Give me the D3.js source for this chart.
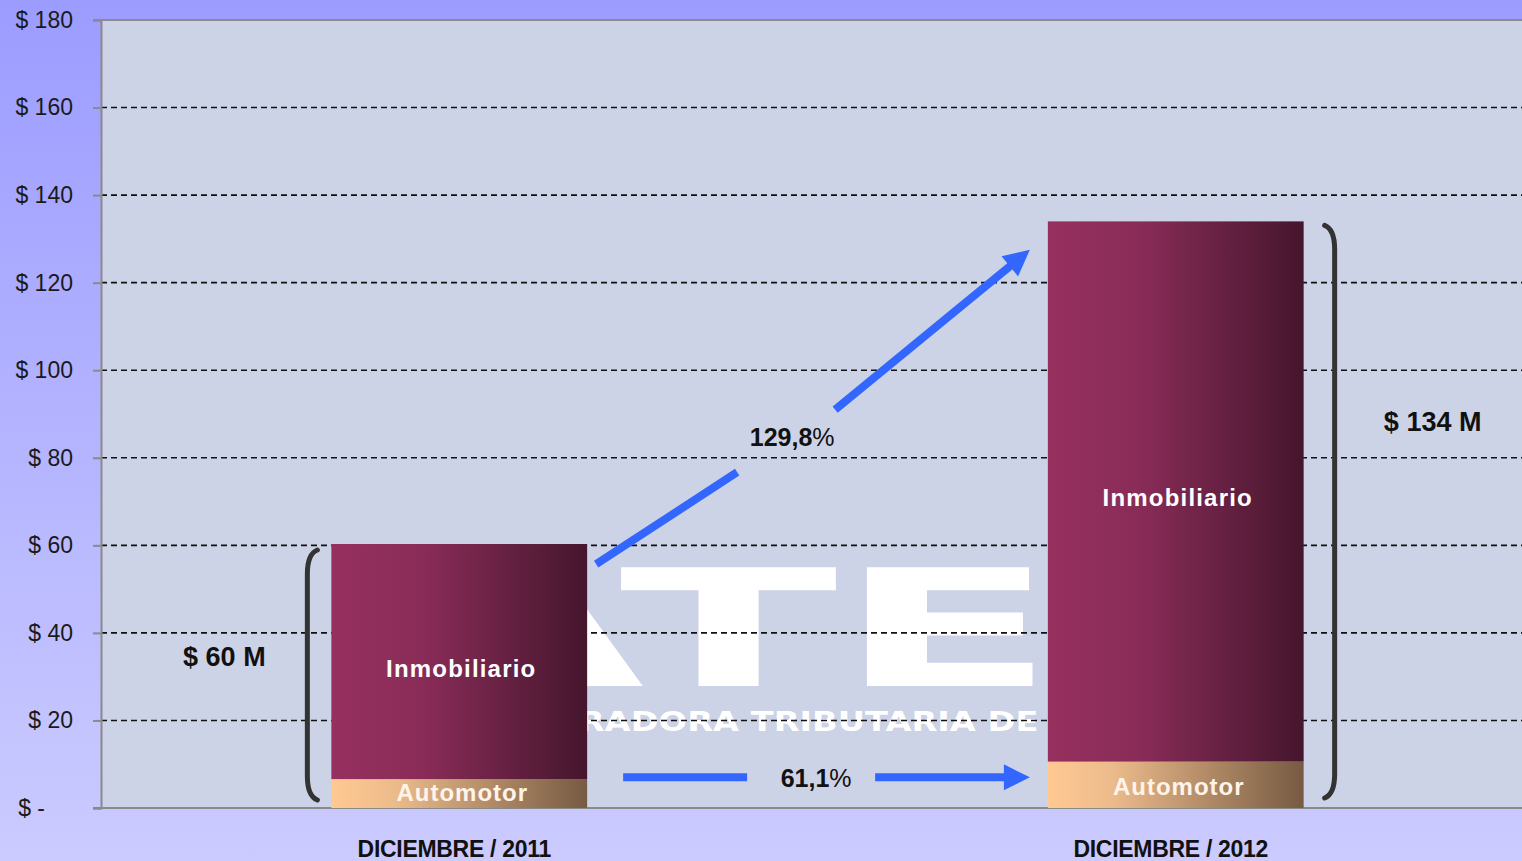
<!DOCTYPE html>
<html>
<head>
<meta charset="utf-8">
<script src="https://cdn.jsdelivr.net/npm/d3@7/dist/d3.min.js"></script>
<style>
  html, body { margin: 0; padding: 0; overflow: hidden; }
  body { width: 1522px; height: 861px; }
  text { font-family: "Liberation Sans", Arial, sans-serif; }
</style>
</head>
<body>
<div id="chart"></div>
<script>
// chart data
var periods = ["DICIEMBRE / 2011", "DICIEMBRE / 2012"];
var automotor = [6.6, 10.6];
var inmobiliario = [53.7, 123.4];
var totalLabels = ["$ 60 M", "$ 134 M"];
var growthLabels = ["129,8", "61,1"];
var yTicks = [0, 20, 40, 60, 80, 100, 120, 140, 160, 180];

var width = 1522;
var height = 861;

var margin = { top: 20, left: 101, bottom: 53 };
var plotBottom = height - margin.bottom;

var svg = d3.select("#chart")
  .append("svg")
  .attr("width", width)
  .attr("height", height);

var defs = svg.append("defs");

var bgGrad = defs.append("linearGradient")
  .attr("id", "bgGrad").attr("x1", 0).attr("y1", 0).attr("x2", 0).attr("y2", 1);
bgGrad.append("stop").attr("offset", "0%").attr("stop-color", "#9c9cff");
bgGrad.append("stop").attr("offset", "100%").attr("stop-color", "#cbcbff");

var inmoGrad = defs.append("linearGradient")
  .attr("id", "inmoGrad").attr("x1", 0).attr("y1", 0).attr("x2", 1).attr("y2", 0);
inmoGrad.append("stop").attr("offset", "0%").attr("stop-color", "#96305f");
inmoGrad.append("stop").attr("offset", "35%").attr("stop-color", "#8a2c58");
inmoGrad.append("stop").attr("offset", "100%").attr("stop-color", "#45162d");

var autoGrad = defs.append("linearGradient")
  .attr("id", "autoGrad").attr("x1", 0).attr("y1", 0).attr("x2", 1).attr("y2", 0);
autoGrad.append("stop").attr("offset", "0%").attr("stop-color", "#ffc992");
autoGrad.append("stop").attr("offset", "25%").attr("stop-color", "#ecbb8b");
autoGrad.append("stop").attr("offset", "100%").attr("stop-color", "#765a42");

svg.append("rect")
  .attr("width", width).attr("height", height)
  .attr("fill", "url(#bgGrad)");

var x = d3.scaleBand()
  .domain(periods)
  .range([margin.left, 1534])
  .padding(0);

var y = d3.scaleLinear()
  .domain([0, 180])
  .range([plotBottom, margin.top]);

var barW = x.bandwidth() * 0.357;
function barX(d) { return x(d) + (x.bandwidth() - barW) / 2; }

// plot area
svg.append("rect")
  .attr("x", margin.left).attr("y", margin.top)
  .attr("width", width - margin.left).attr("height", plotBottom - margin.top)
  .attr("fill", "#cdd3e6");

// watermark
svg.append("text")
  .attr("x", 397).attr("y", 686)
  .attr("textLength", 905).attr("lengthAdjust", "spacingAndGlyphs")
  .style("font-family", "'DejaVu Sans', sans-serif")
  .style("font-weight", "bold")
  .style("font-size", "163px")
  .attr("fill", "#ffffff")
  .text("ATER");

svg.append("text")
  .attr("x", 391).attr("y", 731)
  .attr("textLength", 885).attr("lengthAdjust", "spacingAndGlyphs")
  .style("font-family", "'DejaVu Sans', sans-serif")
  .style("font-weight", "bold")
  .style("font-size", "26px")
  .attr("fill", "#ffffff")
  .text("ADMINISTRADORA TRIBUTARIA DE ENTRE RÍOS");

// gridlines
svg.append("g")
  .selectAll("line")
  .data(yTicks.filter(function(d) { return d > 0 && d < 180; }))
  .enter().append("line")
  .attr("x1", margin.left).attr("x2", width)
  .attr("y1", function(d) { return y(d); })
  .attr("y2", function(d) { return y(d); })
  .attr("stroke", "#111")
  .attr("stroke-width", 1.6)
  .attr("stroke-dasharray", "6,4");

// top border
svg.append("line")
  .attr("x1", margin.left - 8).attr("x2", width)
  .attr("y1", y(180)).attr("y2", y(180))
  .attr("stroke", "#8a8a8a").attr("stroke-width", 2);

// y axis
var yAxis = d3.axisLeft(y)
  .tickValues(yTicks)
  .tickSize(8)
  .tickPadding(20)
  .tickFormat(function(d) { return d === 0 ? "$ -" : "$ " + d; });

var yAxisG = svg.append("g")
  .attr("transform", "translate(" + margin.left + ",0)")
  .call(yAxis);
yAxisG.select(".domain").attr("stroke", "#8a8a8a").attr("stroke-width", 2);
yAxisG.selectAll(".tick line").attr("stroke", "#8a8a8a").attr("stroke-width", 2);
yAxisG.selectAll(".tick text")
  .style("font-family", "'Liberation Sans', Arial, sans-serif")
  .style("font-size", "23px")
  .attr("fill", "#1a1a1a")
  .attr("dx", function(d) { return d === 0 ? -28 : 0; });

// x axis line
svg.append("line")
  .attr("x1", margin.left - 8).attr("x2", width)
  .attr("y1", plotBottom).attr("y2", plotBottom)
  .attr("stroke", "#8a8a8a").attr("stroke-width", 2);

// bars
var bars = svg.append("g");
periods.forEach(function(p, i) {
  bars.append("rect")
    .attr("x", barX(p))
    .attr("y", y(automotor[i]))
    .attr("width", barW)
    .attr("height", y(0) - y(automotor[i]))
    .attr("fill", "url(#autoGrad)");

  bars.append("rect")
    .attr("x", barX(p))
    .attr("y", y(automotor[i] + inmobiliario[i]))
    .attr("width", barW)
    .attr("height", y(automotor[i]) - y(automotor[i] + inmobiliario[i]))
    .attr("fill", "url(#inmoGrad)");

  var cx = x(p) + x.bandwidth() / 2;
  var midInmo = (y(automotor[i]) + y(automotor[i] + inmobiliario[i])) / 2;
  var midAuto = (y(0) + y(automotor[i])) / 2;

  bars.append("text")
    .attr("x", cx + 2).attr("y", midInmo + 15)
    .attr("text-anchor", "middle")
    .style("font-weight", "bold").style("font-size", "24px")
    .style("letter-spacing", "1.2px")
    .attr("fill", "#ffffff")
    .text("Inmobiliario");

  bars.append("text")
    .attr("x", cx + 3).attr("y", Math.min(midAuto + 10, y(0) - 7))
    .attr("text-anchor", "middle")
    .style("font-weight", "bold").style("font-size", "24px")
    .style("letter-spacing", "1px")
    .attr("fill", "#fff4ea")
    .text("Automotor");

  svg.append("text")
    .attr("x", cx - 5).attr("y", height - 4)
    .attr("text-anchor", "middle")
    .style("font-weight", "bold").style("font-size", "23px")
    .style("letter-spacing", "-0.3px")
    .attr("fill", "#111")
    .text(p);
});

// brackets around totals
function bracket(bx, top, bot, dir) {
  var p = d3.path();
  p.moveTo(bx + dir * 10, top);
  p.quadraticCurveTo(bx, top + 4, bx, top + 24);
  p.lineTo(bx, bot - 24);
  p.quadraticCurveTo(bx, bot - 4, bx + dir * 10, bot);
  return p.toString();
}

var b1 = barX(periods[0]) - 24;
var b2 = barX(periods[1]) + barW + 31;
var tops = [automotor[0] + inmobiliario[0], automotor[1] + inmobiliario[1]];

svg.append("path")
  .attr("d", bracket(b1, y(tops[0]) + 6, y(0) - 8, 1))
  .attr("fill", "none").attr("stroke", "#333").attr("stroke-width", 5)
  .attr("stroke-linecap", "round");
svg.append("path")
  .attr("d", bracket(b2, y(tops[1]) + 4, y(0) - 10, -1))
  .attr("fill", "none").attr("stroke", "#333").attr("stroke-width", 5)
  .attr("stroke-linecap", "round");

svg.append("text")
  .attr("x", b1 - 83).attr("y", y(tops[0] * 0.6) + 16)
  .attr("text-anchor", "middle")
  .style("font-weight", "bold").style("font-size", "27px")
  .attr("fill", "#111")
  .text(totalLabels[0]);

svg.append("text")
  .attr("x", b2 + 98).attr("y", y(tops[1] * 0.66) + 10)
  .attr("text-anchor", "middle")
  .style("font-weight", "bold").style("font-size", "27px")
  .attr("fill", "#111")
  .text(totalLabels[1]);

// growth arrows
var arrowColor = "#3366ff";

function segment(p0, p1) {
  svg.append("line")
    .attr("x1", p0[0]).attr("y1", p0[1]).attr("x2", p1[0]).attr("y2", p1[1])
    .attr("stroke", arrowColor).attr("stroke-width", 8);
}

function arrowSegment(p0, p1) {
  var dx = p1[0] - p0[0], dy = p1[1] - p0[1];
  var len = Math.sqrt(dx * dx + dy * dy);
  var ux = dx / len, uy = dy / len;
  var headL = 26, headW = 13;
  var bx = p1[0] - ux * headL, by = p1[1] - uy * headL;
  segment(p0, [bx + ux * 2, by + uy * 2]);
  svg.append("path")
    .attr("d", "M" + p1[0] + "," + p1[1] +
      "L" + (bx - uy * headW) + "," + (by + ux * headW) +
      "L" + (bx + uy * headW) + "," + (by - ux * headW) + "Z")
    .attr("fill", arrowColor);
}

function growthLabel(lx, ly, label) {
  var t = svg.append("text")
    .attr("x", lx).attr("y", ly)
    .attr("text-anchor", "middle")
    .style("font-size", "25px")
    .attr("fill", "#111");
  t.append("tspan").style("font-weight", "bold").text(label);
  t.append("tspan").style("font-weight", "normal").text("%");
}

var right1 = barX(periods[0]) + barW;
var left2 = barX(periods[1]);

// 129,8% arrow (two pieces around the label)
segment([right1 + 9, y(55.7)], [right1 + 150, y(76.7)]);
arrowSegment([right1 + 248, y(91)], [left2 - 18, y(127.5)]);
growthLabel(right1 + 205, y(84.7) + 9, growthLabels[0]);

// 61,1% arrow
segment([right1 + 36, y(7)], [right1 + 160, y(7)]);
arrowSegment([right1 + 288, y(7)], [left2 - 18, y(7)]);
growthLabel(right1 + 229, y(7) + 10, growthLabels[1]);
</script>
</body>
</html>
